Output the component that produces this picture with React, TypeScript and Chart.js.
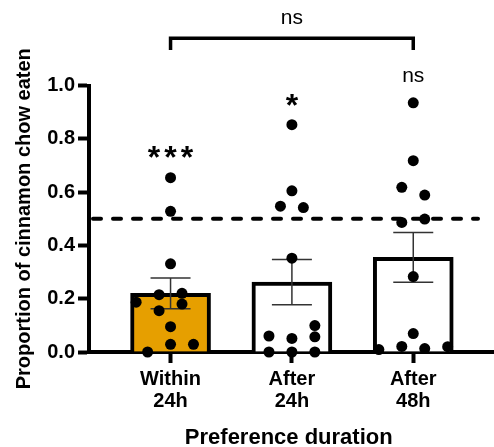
import React, { useEffect, useRef } from "react";
import { Chart, registerables } from "chart.js";

Chart.register(...registerables);

const categories = [["Within", "24h"], ["After", "24h"], ["After", "48h"]];
const yTickValues = [0, 0.2, 0.4, 0.6, 0.8, 1.0];

const within24h = [0.654, 0.528, 0.331, 0.215, 0.22, 0.187, 0.155, 0.18, 0.095, 0.029, 0.029, 0.0];
const after24h = [0.853, 0.605, 0.547, 0.542, 0.352, 0.099, 0.057, 0.06, 0.051, 0.0, 0.0, 0.0];
const after48h = [0.935, 0.718, 0.618, 0.589, 0.486, 0.499, 0.283, 0.069, 0.021, 0.013, 0.009, 0.02];

const jitterWithin24h = [0, 0, 0, -1, 1, -3, -1, 1, 0, 0, 2, -2];
const jitterAfter24h = [0, 0, -1, 1, 0, 2, 2, -2, 0, -2, 0, 2];
const jitterAfter48h = [0, 0, -1, 1, -1, 1, 0, 0, -1, 1, -3, 3];

const means = [0.22, 0.262, 0.355];
const sems = [0.058, 0.085, 0.093];
const significance = ["***", "*", "ns"];
const chanceLevel = 0.5;
const comparisonLabel = "ns";

const X_MIN = -0.672;
const X_MAX = 2.62;
const JITTER_STEP = 0.0945;
const FONT = 'Arial, "Liberation Sans", sans-serif';

export default function App() {
  const ref = useRef<HTMLCanvasElement | null>(null);

  useEffect(() => {
    const canvas = ref.current;
    if (!canvas) return;

    const groups = [within24h, after24h, after48h];
    const jitters = [jitterWithin24h, jitterAfter24h, jitterAfter48h];
    const points: { x: number; y: number }[] = [];
    groups.forEach((g, ci) => {
      g.forEach((v, i) => points.push({ x: ci + jitters[ci][i] * JITTER_STEP, y: v }));
    });

    const overlay = {
      id: "overlay",
      afterDatasetDraw(chart: any, args: any) {
        if (args.index !== 1) return;
        const ctx = chart.ctx;
        const xs = chart.scales.x;
        const ys = chart.scales.y;
        ctx.save();
        ctx.strokeStyle = "#333";
        ctx.lineWidth = 1.5;
        means.forEach((m, i) => {
          const cx = xs.getPixelForValue(i);
          const top = ys.getPixelForValue(m + sems[i]);
          const bot = ys.getPixelForValue(m - sems[i]);
          ctx.beginPath();
          ctx.moveTo(cx, top);
          ctx.lineTo(cx, bot);
          ctx.moveTo(cx - 20, top);
          ctx.lineTo(cx + 20, top);
          ctx.moveTo(cx - 20, bot);
          ctx.lineTo(cx + 20, bot);
          ctx.stroke();
        });
        const y5 = ys.getPixelForValue(chanceLevel);
        ctx.strokeStyle = "#000";
        ctx.lineWidth = 4;
        ctx.lineCap = "round";
        ctx.setLineDash([8, 12]);
        ctx.beginPath();
        ctx.moveTo(93, y5);
        ctx.lineTo(478, y5);
        ctx.stroke();
        ctx.restore();
      },
      afterDraw(chart: any) {
        const ctx = chart.ctx;
        const xs = chart.scales.x;
        const ca = chart.chartArea;
        ctx.save();
        // extend x axis line to the right edge
        ctx.fillStyle = "#000";
        ctx.fillRect(ca.right - 2, ca.bottom - 2, 494 - ca.right + 2, 4);
        ctx.textAlign = "center";
        ctx.textBaseline = "alphabetic";
        const starY = [168, 116];
        [0, 1].forEach((i) => {
          ctx.font = `bold 32px ${FONT}`;
          (ctx as any).letterSpacing = i === 0 ? "4px" : "0px";
          ctx.fillText(significance[i], xs.getPixelForValue(i) + (i === 0 ? 2 : 0), starY[i]);
        });
        (ctx as any).letterSpacing = "0px";
        ctx.font = `21px ${FONT}`;
        ctx.fillText(significance[2], xs.getPixelForValue(2), 82);
        ctx.fillText(comparisonLabel, (xs.getPixelForValue(0) + xs.getPixelForValue(2)) / 2, 24);
        ctx.strokeStyle = "#000";
        ctx.lineWidth = 3.5;
        ctx.lineJoin = "miter";
        ctx.beginPath();
        ctx.moveTo(xs.getPixelForValue(0), 50);
        ctx.lineTo(xs.getPixelForValue(0), 38.3);
        ctx.lineTo(xs.getPixelForValue(2), 38.3);
        ctx.lineTo(xs.getPixelForValue(2), 50);
        ctx.stroke();
        ctx.restore();
      },
    };

    const chart = new Chart(canvas, {
      type: "bar",
      data: {
        datasets: [
          {
            type: "scatter",
            data: points,
            backgroundColor: "#000",
            borderWidth: 0,
            pointRadius: 5.5,
            pointHoverRadius: 5.5,
            clip: false,
          } as any,
          {
            type: "bar",
            data: means.map((m, i) => ({ x: i, y: m })),
            backgroundColor: ["#E69F00", "#ffffff", "#ffffff"],
            borderColor: "#000",
            borderWidth: 4,
            barThickness: 80,
          } as any,
        ],
      },
      options: {
        responsive: false,
        animation: false,
        events: [],
        layout: { padding: { top: 85.5, left: 0, right: 0, bottom: 0 } },
        plugins: { legend: { display: false }, tooltip: { enabled: false } },
        scales: {
          x: {
            type: "linear",
            offset: false,
            min: X_MIN,
            max: X_MAX,
            afterBuildTicks: (s: any) => {
              s.ticks = categories.map((_, i) => ({ value: i }));
            },
            afterDataLimits: (s: any) => {
              s.min = X_MIN;
              s.max = X_MAX;
            },
            afterFit: (s: any) => {
              s.height = 95;
            },
            ticks: {
              callback: (v: any) => categories[Math.round(Number(v))],
              color: "#000",
              font: { family: FONT, size: 20, weight: "bold", lineHeight: 1.1 },
              padding: 5,
              maxRotation: 0,
              autoSkip: false,
            },
            grid: {
              drawOnChartArea: false,
              drawTicks: true,
              tickLength: 11,
              tickWidth: 4,
              tickColor: "#000",
              offset: false,
            },
            border: { display: true, color: "#000", width: 4 },
            title: {
              display: true,
              text: "Preference duration",
              color: "#000",
              font: { family: FONT, size: 22, weight: "bold", lineHeight: 1 },
              padding: { top: 0, bottom: -1.5 },
            },
          },
          y: {
            type: "linear",
            min: 0,
            max: 1,
            afterBuildTicks: (s: any) => {
              s.ticks = yTickValues.map((v) => ({ value: v }));
            },
            afterFit: (s: any) => {
              s.width = 89;
            },
            ticks: {
              callback: (v: any) => Number(v).toFixed(1),
              color: "#000",
              font: { family: FONT, size: 20, weight: "bold" },
              padding: 3,
            },
            grid: {
              drawOnChartArea: false,
              drawTicks: true,
              tickLength: 11,
              tickWidth: 4,
              tickColor: "#000",
            },
            border: { display: true, color: "#000", width: 4 },
            title: {
              display: true,
              text: "Proportion of cinnamon chow eaten",
              color: "#000",
              font: { family: FONT, size: 20, weight: "bold", lineHeight: 1.2 },
              padding: { top: 12, bottom: 0 },
            },
          },
        },
      },
      plugins: [overlay],
    } as any);

    return () => chart.destroy();
  }, []);

  return (
    <div style={{ position: "fixed", left: 0, top: 0, width: 494, height: 447, background: "#fff" }}>
      <canvas ref={ref} width={494} height={447} style={{ display: "block", width: 494, height: 447 }} />
    </div>
  );
}
